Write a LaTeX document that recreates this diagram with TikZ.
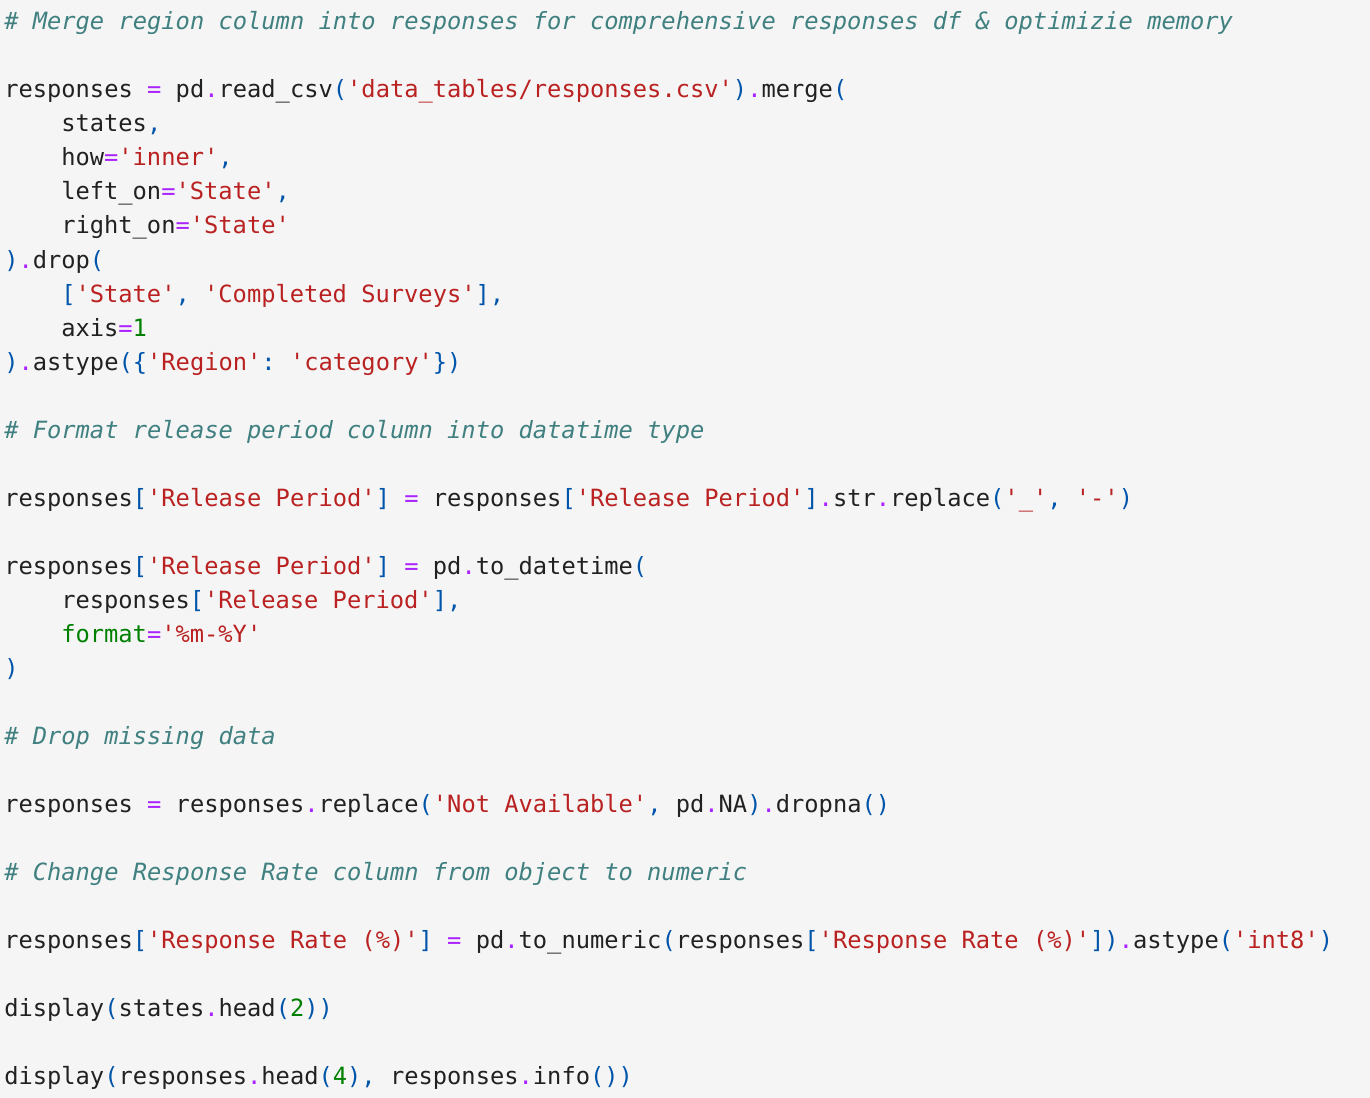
\documentclass[tikz,border=0pt]{standalone}
\usepackage{fontspec}
\setmonofont{DejaVu Sans Mono}
\usepackage{xcolor}
\usepackage{tikz}
\definecolor{bg}{HTML}{F5F5F5}
\definecolor{plain}{HTML}{212121}
\definecolor{comm}{HTML}{408080}
\definecolor{strc}{HTML}{BA2121}
\definecolor{opc}{HTML}{AA22FF}
\definecolor{punc}{HTML}{0055AA}
\definecolor{numc}{HTML}{008000}
\newcommand\kstr[1]{\textcolor{strc}{#1}}
\newcommand\kop[1]{\textcolor{opc}{#1}}
\newcommand\kpun[1]{\textcolor{punc}{#1}}
\newcommand\knum[1]{\textcolor{numc}{#1}}
\newcommand\kcom[1]{\textcolor{comm}{\itshape #1}}
\tikzset{
  code/.style={anchor=base west, inner sep=0pt, text=plain,
    font=\ttfamily\fontsize{17.8}{25.5}\selectfont},
}

\begin{document}
\begin{tikzpicture}[x=0.75pt,y=-0.75pt]
  \fill[bg] (0,0) rectangle (1370,1098);
  % line k sits on baseline 30+34k, indent of 4 chars at x=61
  \node[code] (l0) at (4,30) {\kcom{\# Merge region column into responses for comprehensive responses df \& optimizie memory}};
  \node[code] (l2) at (4,98) {responses \kop{=} pd\kop{.}read\_csv\kpun{(}\kstr{'data\_tables/responses.csv'}\kpun{)}\kop{.}merge\kpun{(}};
  \node[code] (l3) at (61,132) {states\kpun{,}};
  \node[code] (l4) at (61,166) {how\kop{=}\kstr{'inner'}\kpun{,}};
  \node[code] (l5) at (61,200) {left\_on\kop{=}\kstr{'State'}\kpun{,}};
  \node[code] (l6) at (61,234) {right\_on\kop{=}\kstr{'State'}};
  \node[code] (l7) at (4,268) {\kpun{)}\kop{.}drop\kpun{(}};
  \node[code] (l8) at (61,302) {\kpun{[}\kstr{'State'}\kpun{,} \kstr{'Completed Surveys'}\kpun{],}};
  \node[code] (l9) at (61,336) {axis\kop{=}\knum{1}};
  \node[code] (l10) at (4,370) {\kpun{)}\kop{.}astype\kpun{(\{}\kstr{'Region'}\kpun{:} \kstr{'category'}\kpun{\})}};
  \node[code] (l12) at (4,438) {\kcom{\# Format release period column into datatime type}};
  \node[code] (l14) at (4,506) {responses\kpun{[}\kstr{'Release Period'}\kpun{]} \kop{=} responses\kpun{[}\kstr{'Release Period'}\kpun{]}\kop{.}str\kop{.}replace\kpun{(}\kstr{'\_'}\kpun{,} \kstr{'-'}\kpun{)}};
  \node[code] (l16) at (4,574) {responses\kpun{[}\kstr{'Release Period'}\kpun{]} \kop{=} pd\kop{.}to\_datetime\kpun{(}};
  \node[code] (l17) at (61,608) {responses\kpun{[}\kstr{'Release Period'}\kpun{],}};
  \node[code] (l18) at (61,642) {\knum{format}\kop{=}\kstr{'\%m-\%Y'}};
  \node[code] (l19) at (4,676) {\kpun{)}};
  \node[code] (l21) at (4,744) {\kcom{\# Drop missing data}};
  \node[code] (l23) at (4,812) {responses \kop{=} responses\kop{.}replace\kpun{(}\kstr{'Not Available'}\kpun{,} pd\kop{.}NA\kpun{)}\kop{.}dropna\kpun{()}};
  \node[code] (l25) at (4,880) {\kcom{\# Change Response Rate column from object to numeric}};
  \node[code] (l27) at (4,948) {responses\kpun{[}\kstr{'Response Rate (\%)'}\kpun{]} \kop{=} pd\kop{.}to\_numeric\kpun{(}responses\kpun{[}\kstr{'Response Rate (\%)'}\kpun{])}\kop{.}astype\kpun{(}\kstr{'int8'}\kpun{)}};
  \node[code] (l29) at (4,1016) {display\kpun{(}states\kop{.}head\kpun{(}\knum{2}\kpun{))}};
  \node[code] (l31) at (4,1084) {display\kpun{(}responses\kop{.}head\kpun{(}\knum{4}\kpun{),} responses\kop{.}info\kpun{())}};
  \useasboundingbox (0,0) rectangle (1370,1098);
\end{tikzpicture}
\end{document}
